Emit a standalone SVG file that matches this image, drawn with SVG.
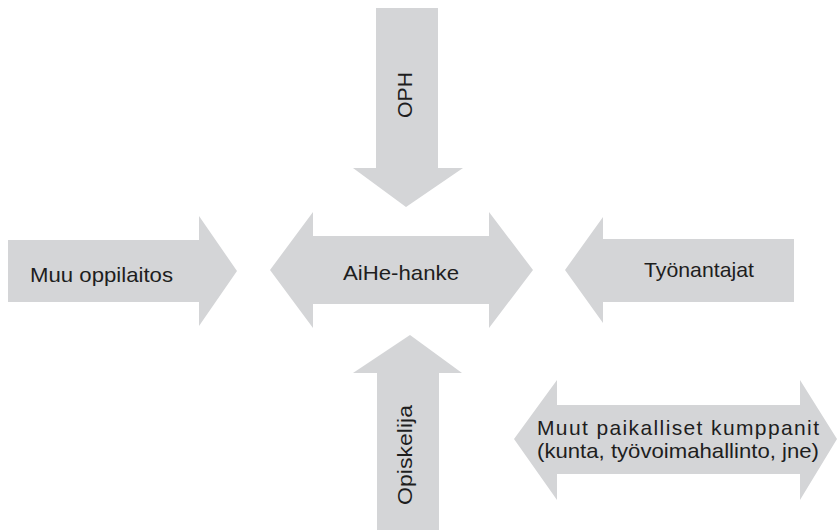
<svg xmlns="http://www.w3.org/2000/svg" width="839" height="530" viewBox="0 0 839 530">
<style>
.a{fill:#d4d5d7;stroke:none}
.t{font-family:"Liberation Sans",Arial,sans-serif;font-size:21px;fill:#1e1e1e}
</style>
<rect width="839" height="530" fill="#ffffff"/>
<g id="oph">
<polygon class="a" points="376,8 438,8 438,168 463,168 406,207 353,168 376,168"/>
<text class="t" text-anchor="middle" transform="translate(412,95) rotate(-90)" x="0" y="0" textLength="46" lengthAdjust="spacingAndGlyphs">OPH</text>
</g>
<g id="muu-oppilaitos">
<polygon class="a" points="8,240 199,240 199,216 237,271 199,326 199,302 8,302"/>
<text class="t" x="30" y="282" textLength="143" lengthAdjust="spacingAndGlyphs">Muu oppilaitos</text>
</g>
<g id="aihe-hanke">
<polygon class="a" points="270,270 313,212 313,236 489,236 489,212 533,270 489,328 489,304 313,304 313,328"/>
<text class="t" x="343" y="280" textLength="116" lengthAdjust="spacingAndGlyphs">AiHe-hanke</text>
</g>
<g id="tyonantajat">
<polygon class="a" points="565,270 603,217 603,239 794,239 794,302 603,302 603,323"/>
<text class="t" x="644" y="277" textLength="110" lengthAdjust="spacingAndGlyphs">Työnantajat</text>
</g>
<g id="opiskelija">
<polygon class="a" points="410,335 462,373 439,373 439,530 377,530 377,373 353,373"/>
<text class="t" text-anchor="middle" transform="translate(412,455) rotate(-90)" x="0" y="0" textLength="100" lengthAdjust="spacingAndGlyphs">Opiskelija</text>
</g>
<g id="muut-kumppanit">
<polygon class="a" points="514,439 557,380 557,405 800,405 800,380 837,439 800,500 800,474 557,474 557,500"/>
<text class="t" x="537" y="435" textLength="282" lengthAdjust="spacing">Muut paikalliset kumppanit</text>
<text class="t" x="537" y="458" textLength="282" lengthAdjust="spacingAndGlyphs">(kunta, työvoimahallinto, jne)</text>
</g>
</svg>
